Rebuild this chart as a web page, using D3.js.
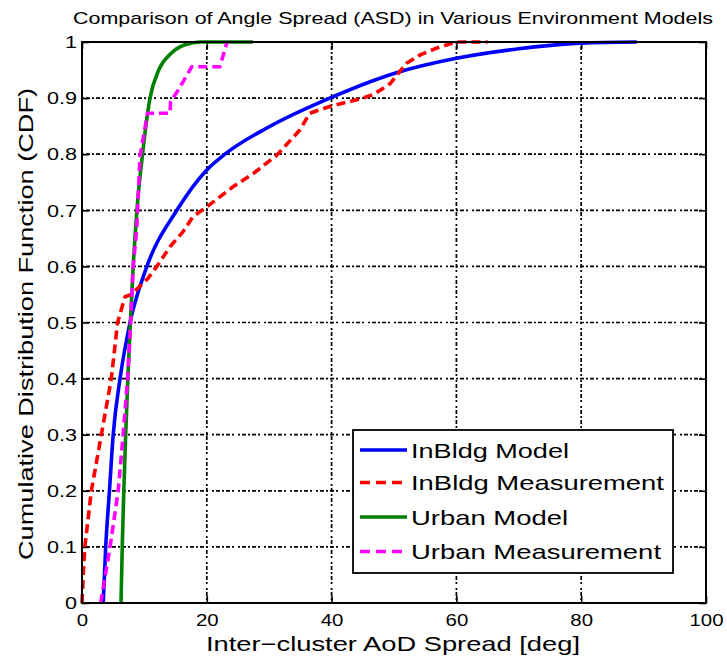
<!DOCTYPE html>
<html><head><meta charset="utf-8">
<script src="https://cdn.jsdelivr.net/npm/d3@7"></script>
<style>body{margin:0;background:#fff} svg{display:block;font-family:"Liberation Sans",Arial,sans-serif}</style>
</head><body><svg id="c" width="727" height="663"></svg>
<script>
// ---- data ----
const xTicks = [0, 20, 40, 60, 80, 100];
const xTickLabels = ["0", "20", "40", "60", "80", "100"];
const yTicks = [0, 0.1, 0.2, 0.3, 0.4, 0.5, 0.6, 0.7, 0.8, 0.9, 1];
const yTickLabels = ["0", "0.1", "0.2", "0.3", "0.4", "0.5", "0.6", "0.7", "0.8", "0.9", "1"];

const inBldgModelX = [3.4, 3.8, 4.4, 5.0, 6.1, 7.7, 10.4, 15.2, 20, 22.9, 30, 39.7, 50, 60, 70, 80, 88.9];
const inBldgModelY = [0, 0.1, 0.2, 0.3, 0.4, 0.5, 0.6, 0.7, 0.772, 0.8, 0.849, 0.9, 0.944, 0.971, 0.988, 0.998, 1.0];

const inBldgMeasX = [0, 0.2, 0.45, 1.5, 3.1, 4.7, 5.7, 6.9, 7.9, 10.6, 12.0, 14.1, 16.2, 17.8, 20.0, 24.2, 27.5, 31.2, 34.9, 36.5, 39.7, 44.0, 46.7, 49.4, 52.0, 54.2, 56.8, 60.0, 65.0];
const inBldgMeasY = [0, 0.05, 0.1, 0.2, 0.3, 0.4, 0.5, 0.546, 0.55, 0.579, 0.6, 0.635, 0.662, 0.689, 0.706, 0.742, 0.766, 0.798, 0.843, 0.873, 0.885, 0.897, 0.906, 0.926, 0.962, 0.977, 0.989, 1.0, 1.0];

const urbanModelX = [6.25, 6.45, 6.7, 7.0, 7.35, 7.75, 8.2, 8.8, 9.7, 10.9, 12.3, 14.3, 16.5, 19.0, 27.4];
const urbanModelY = [0, 0.1, 0.2, 0.3, 0.4, 0.5, 0.6, 0.7, 0.8, 0.9, 0.95, 0.98, 0.995, 1.0, 1.0];

const urbanMeasX = [3.0, 4.5, 5.8, 6.6, 7.3, 7.8, 8.2, 8.76, 9.3, 10.5, 14.1, 14.2, 15.4, 17.6, 22.1, 23.2];
const urbanMeasY = [0, 0.1, 0.2, 0.3, 0.4, 0.5, 0.6, 0.665, 0.796, 0.873, 0.873, 0.894, 0.914, 0.956, 0.956, 0.998];

const seriesNames = ["InBldg Model", "InBldg Measurement", "Urban Model", "Urban Measurement"];
const seriesColors = ["#0000ff", "#ff0000", "#008000", "#ff00ff"];

const titleText = "Comparison of Angle Spread (ASD) in Various Environment Models";
const xLabelText = "Inter\u2212cluster AoD Spread [deg]";
const yLabelText = "Cumulative Distribution Function (CDF)";

// ---- layout ----
const L = 82, R = 706, T = 42, B = 603;
const svg = d3.select("#c");
const x = d3.scaleLinear().domain([0, 100]).range([L, R]);
const y = d3.scaleLinear().domain([0, 1]).range([B, T]);

function stretch(sel, factor) {
  sel.each(function () {
    const n = this.getComputedTextLength();
    d3.select(this).attr("textLength", n * factor).attr("lengthAdjust", "spacingAndGlyphs");
  });
}

// grid
const gridDash = "2,2,4,2,2,2,4,2,2,4";
svg.append("g").selectAll("line").data(xTicks.slice(1, -1)).join("line")
  .attr("x1", d => x(d)).attr("x2", d => x(d)).attr("y1", T).attr("y2", B)
  .attr("stroke", "#000").attr("stroke-width", 1.7).attr("stroke-dasharray", gridDash);
svg.append("g").selectAll("line").data(yTicks.slice(1, -1)).join("line")
  .attr("y1", d => y(d)).attr("y2", d => y(d)).attr("x1", L).attr("x2", R)
  .attr("stroke", "#000").attr("stroke-width", 1.7).attr("stroke-dasharray", gridDash);

// axes (ticks inward)
const gx = svg.append("g").attr("transform", `translate(0,${B})`)
  .call(d3.axisBottom(x).tickValues(xTicks).tickFormat((d, i) => xTickLabels[i]).tickSize(-7).tickPadding(11));
const gy = svg.append("g").attr("transform", `translate(${L},0)`)
  .call(d3.axisLeft(y).tickValues(yTicks).tickFormat((d, i) => yTickLabels[i]).tickSize(-7).tickPadding(5));
const gt = svg.append("g").attr("transform", `translate(0,${T})`)
  .call(d3.axisTop(x).tickValues(xTicks).tickFormat("").tickSize(-7));
const gr = svg.append("g").attr("transform", `translate(${R},0)`)
  .call(d3.axisRight(y).tickValues(yTicks).tickFormat("").tickSize(-7));
[gx, gy, gt, gr].forEach(g => {
  g.select(".domain").remove();
  g.selectAll(".tick line").attr("stroke", "#000").attr("stroke-width", 1.6);
});
gx.selectAll(".tick text").attr("font-size", 17).attr("fill", "#000").attr("font-family", "Liberation Sans");
gy.selectAll(".tick text").attr("font-size", 16).attr("fill", "#000").attr("font-family", "Liberation Sans").attr("dy", "0.36em");
stretch(gx.selectAll(".tick text"), 1.2);
stretch(gy.selectAll(".tick text"), 1.35);

// series
const series = [
  {xs: inBldgModelX, ys: inBldgModelY, dash: null, curve: d3.curveMonotoneX},
  {xs: inBldgMeasX, ys: inBldgMeasY, dash: "9,5", curve: d3.curveLinear},
  {xs: urbanModelX, ys: urbanModelY, dash: null, curve: d3.curveMonotoneX},
  {xs: urbanMeasX, ys: urbanMeasY, dash: "9,5", curve: d3.curveLinear}
];
const plot = svg.append("g");
series.forEach((s, i) => {
  const pts = s.xs.map((v, k) => [v, s.ys[k]]);
  plot.append("path")
    .attr("d", d3.line().x(d => x(d[0])).y(d => y(d[1])).curve(s.curve)(pts))
    .attr("fill", "none").attr("stroke", seriesColors[i]).attr("stroke-width", 3.6)
    .attr("stroke-dasharray", s.dash).attr("stroke-linejoin", "round");
});

// frame
svg.append("rect").attr("x", L).attr("y", T).attr("width", R - L).attr("height", B - T)
  .attr("fill", "none").attr("stroke", "#000").attr("stroke-width", 2);

// title + labels
svg.append("text").attr("x", (72 + 714) / 2).attr("y", 24).attr("text-anchor", "middle")
  .attr("font-size", 17).attr("fill", "#000").text(titleText)
  .attr("textLength", 640).attr("lengthAdjust", "spacingAndGlyphs");
svg.append("text").attr("x", 393).attr("y", 651).attr("text-anchor", "middle")
  .attr("font-size", 21).attr("fill", "#000").text(xLabelText)
  .attr("textLength", 374).attr("lengthAdjust", "spacingAndGlyphs");
svg.append("text").attr("transform", "translate(33,324) rotate(-90)").attr("text-anchor", "middle")
  .attr("font-size", 21).attr("fill", "#000").text(yLabelText)
  .attr("textLength", 472).attr("lengthAdjust", "spacingAndGlyphs");

// legend
const legW = [158, 253, 157, 250];
const lg = svg.append("g");
lg.append("rect").attr("x", 353).attr("y", 430).attr("width", 320).attr("height", 143)
  .attr("fill", "#fff").attr("stroke", "#000").attr("stroke-width", 1.8);
const rowY = [450, 482.5, 517, 551.5];
seriesNames.forEach((name, i) => {
  lg.append("line").attr("x1", 360).attr("x2", 407).attr("y1", rowY[i]).attr("y2", rowY[i])
    .attr("stroke", seriesColors[i]).attr("stroke-width", 3.6)
    .attr("stroke-dasharray", series[i].dash ? "10,6" : null);
  lg.append("text").attr("x", 411).attr("y", rowY[i] + 7.5).attr("font-size", 21).attr("fill", "#000")
    .text(name).attr("textLength", legW[i]).attr("lengthAdjust", "spacingAndGlyphs");
});
</script></body></html>
